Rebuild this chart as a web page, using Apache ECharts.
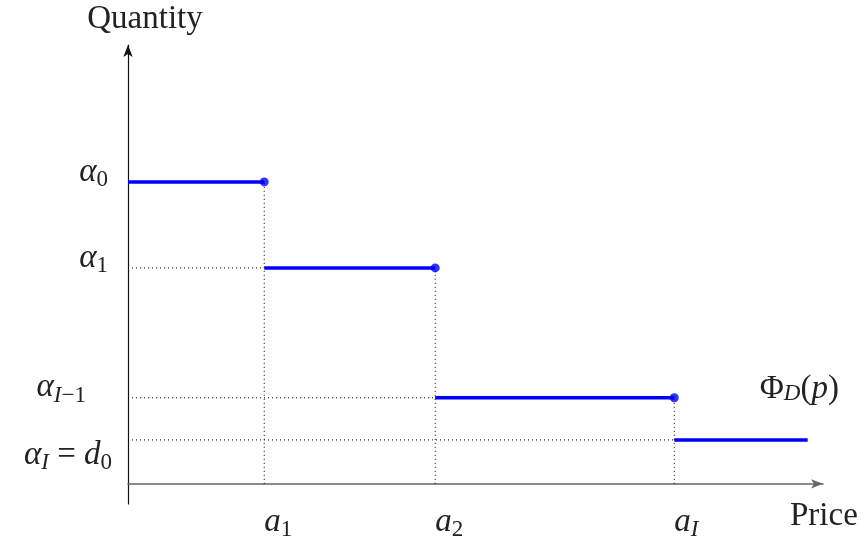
<!DOCTYPE html>
<html>
<head>
<meta charset="utf-8">
<script src="https://cdn.jsdelivr.net/npm/echarts@6/dist/echarts.min.js"></script>
<style>
  html, body { margin: 0; background: #fff; }
  #chart { width: 861px; height: 540px; }
</style>
</head>
<body>
<div id="chart"></div>
<script>
// Demand step function Φ_D(p): quantity stays constant between price breakpoints.
const priceBreaks = [0, 19.6, 44.2, 78.6, 97.8];        // 0, a_1, a_2, a_I, right end of last step
const quantityLevels = [68.8, 49.2, 19.6, 10.0];        // α_0, α_1, α_{I−1}, α_I
const priceLabels = ['a_1', 'a_2', 'a_I'];
const quantityLabels = ['α_0', 'α_1', 'α_{I−1}', 'α_I = d_0'];
const curveLabel = 'Φ_D(p)';
const xTitle = 'Price';
const yTitle = 'Quantity';

const FONT = 'Liberation Serif';
const INK = '#222';
const BLUE = '#0000ff';
const MAIN = 33, SUB = 23;

// Rich-text styles for a small math label: main/sub size, italic/upright,
// each shifted vertically (positive = down) by padding.
function richSet(key, mainShift, subShift, tail) {
  const pad = s => (s < 0 ? [0, 0, -2 * s, 0] : [2 * s, 0, 0, 0]);
  const base = (size, italic, shift) => ({
    fontFamily: FONT, fontSize: size, color: INK,
    fontStyle: italic ? 'italic' : 'normal', padding: pad(shift)
  });
  return {
    [key + 'mi']: base(MAIN, true, mainShift),
    [key + 'mu']: base(MAIN, false, mainShift),
    [key + 'si']: base(SUB, true, subShift),
    [key + 'su']: base(SUB, false, subShift),
    [key + 't']: { width: tail || 0, fontSize: 10 }
  };
}

// Turns 'α_{I−1}'-style strings into rich tokens (letters italic, digits/operators upright).
function texToRich(src, key, tail) {
  let out = '';
  const put = (c, lvl) => {
    const cls = /[A-Za-z\u03b1-\u03c9]/.test(c) ? 'i' : 'u';
    out += '{' + key + lvl + cls + '|' + c + '}';
  };
  for (let i = 0; i < src.length; i++) {
    if (src[i] === '_') {
      let sub;
      if (src[i + 1] === '{') {
        const j = src.indexOf('}', i);
        sub = src.slice(i + 2, j);
        i = j;
      } else {
        sub = src[i + 1];
        i += 1;
      }
      for (const c of sub) put(c, 's');
    } else {
      put(src[i], 'm');
    }
  }
  if (tail) out += '{' + key + 't| }';
  return out;
}

// Per-label layout for the quantity tick labels.
const yMainShift = [-10, -10, -10, 15];
const ySubShift = [-2, -2, -2, 23];
const yTail = [4, 4, 26, 0];

const yRich = {};
quantityLevels.forEach((_, i) => Object.assign(yRich, richSet('y' + i, yMainShift[i], ySubShift[i], yTail[i])));
const xRich = richSet('x', 0, 8, 0);
const cRich = richSet('c', 0, 5, 0);

const guideStyle = { color: '#000', width: 1, type: [1, 3] };
function guide(points) {
  return {
    type: 'line', data: points, symbol: 'none', silent: true, z: 1,
    lineStyle: guideStyle, emphasis: { disabled: true }
  };
}

const series = [];
// Dotted guides from the axes to each jump.
for (let i = 1; i <= 3; i++) {
  series.push(guide([[priceBreaks[i], 0], [priceBreaks[i], quantityLevels[i - 1]]]));
  series.push(guide([[0, quantityLevels[i]], [priceBreaks[i], quantityLevels[i]]]));
}
// Horizontal steps.
quantityLevels.forEach((q, i) => {
  const last = i === quantityLevels.length - 1;
  series.push({
    type: 'line',
    data: [[priceBreaks[i], q], [priceBreaks[i + 1], q]],
    symbol: 'none', silent: true, z: 3,
    lineStyle: { color: BLUE, width: 3.5, cap: 'butt' },
    emphasis: { disabled: true },
    endLabel: last ? {
      show: true,
      distance: 0,
      offset: [-48, -51],
      formatter: () => texToRich(curveLabel, 'c'),
      rich: cRich
    } : { show: false }
  });
});
// Closed right endpoints of the first steps.
series.push({
  type: 'scatter',
  data: quantityLevels.slice(0, 3).map((q, i) => [priceBreaks[i + 1], q]),
  symbol: 'circle', symbolSize: 9, z: 4, silent: true,
  itemStyle: { color: BLUE }
});

const chart = echarts.init(document.getElementById('chart'), null, { renderer: 'canvas' });
chart.setOption({
  animation: false,
  backgroundColor: '#fff',
  grid: { left: 128, top: 45, width: 695, height: 459, containLabel: false, outerBoundsMode: 'none' },
  xAxis: {
    type: 'value', min: 0, max: 100,
    name: '{p|' + xTitle + '}', nameLocation: 'end', nameGap: -33, nameMoveOverlap: false,
    nameTextStyle: {
      align: 'left', verticalAlign: 'middle',
      rich: { p: { fontFamily: FONT, fontSize: MAIN, color: INK, padding: [66, 0, 0, 0] } }
    },
    axisLine: { onZero: true, symbol: ['none', 'arrow'], symbolSize: [7, 12], lineStyle: { color: '#666', width: 1.5 } },
    axisTick: { show: false },
    splitLine: { show: false },
    axisLabel: {
      customValues: priceBreaks.slice(1, 4),
      margin: 18, align: 'left', verticalAlign: 'middle',
      formatter: v => texToRich(priceLabels[priceBreaks.indexOf(v) - 1], 'x'),
      rich: xRich
    }
  },
  yAxis: {
    type: 'value', min: -4.6, max: 100,
    name: yTitle, nameLocation: 'end', nameGap: 26, nameMoveOverlap: false,
    nameTextStyle: { fontFamily: FONT, fontSize: MAIN, color: INK, align: 'center', verticalAlign: 'middle', padding: [0, 0, 0, 34] },
    axisLine: { onZero: true, symbol: ['none', 'arrow'], symbolSize: [7, 12], lineStyle: { color: '#111', width: 1.2 } },
    axisTick: { show: false },
    splitLine: { show: false },
    axisLabel: {
      customValues: quantityLevels,
      margin: 16, align: 'right', verticalAlign: 'middle',
      formatter: v => {
        const i = quantityLevels.indexOf(v);
        return texToRich(quantityLabels[i], 'y' + i, yTail[i]);
      },
      rich: yRich
    }
  },
  series: series
});
</script>
</body>
</html>
